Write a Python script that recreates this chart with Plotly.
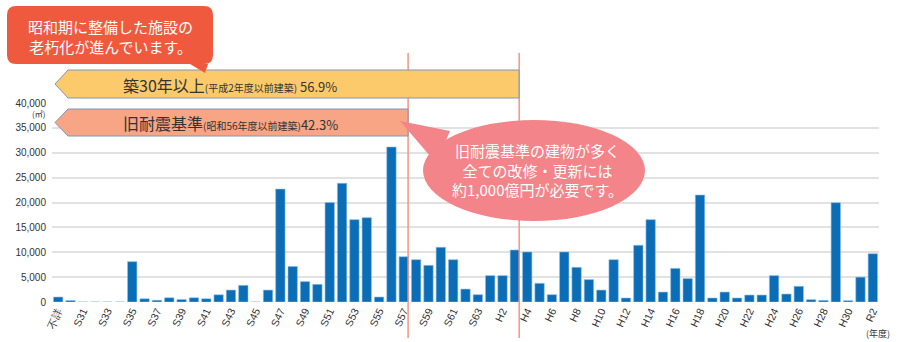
import plotly.graph_objects as go

# ---- data ----
categories = (["不詳"] + [f"S{i}" for i in range(30, 64)] +
              [f"H{i}" for i in range(1, 31)] + ["R1", "R2"])
floor_area = [
    1000, 300, 0, 0, 0, 0, 8100, 650, 350, 850,          # 不詳, S30-S38
    500, 850, 650, 1450, 2400, 3350, 0, 2400, 22700, 7150,  # S39-S48
    4100, 3550, 20000, 23850, 16550, 16950, 1000, 31150, 9100, 8500,  # S49-S58
    7370, 11000, 8500, 2600, 1470,                          # S59-S63
    5300, 5300, 10450, 10050, 3750, 1470, 10050, 6970, 4500, 2400,  # H1-H10
    8500, 800, 11400, 16550, 2000, 6750, 4700, 21500, 800, 2000,    # H11-H20
    800, 1400, 1400, 5300, 1600, 3150, 470, 330, 19960, 270,        # H21-H30
    5000, 9700,                                              # R1, R2
]
tick_labels = categories[::2]
y_ticks = [0, 5000, 10000, 15000, 20000, 25000, 30000, 35000, 40000]

# ---- layout helpers (pixel -> paper) ----
W, H = 900, 342
ML, MR, MT, MB = 52, 21, 103, 40
PW, PH = W - ML - MR, H - MT - MB


def px(x):
    return (x - ML) / PW


def py(y):
    return (H - MB - y) / PH


JP = "Noto Sans CJK JP"
NUM = "Liberation Sans"

fig = go.Figure()
fig.add_trace(go.Bar(
    x=categories, y=floor_area,
    marker=dict(color="#0a6db6", line=dict(color="#8fbde3", width=0.6)),
    hoverinfo="x+y",
))

fig.update_layout(
    width=W, height=H,
    margin=dict(l=ML, r=MR, t=MT, b=MB),
    plot_bgcolor="white", paper_bgcolor="white",
    bargap=0.24, showlegend=False,
    font=dict(family=NUM, color="#333333"),
    xaxis=dict(
        type="category", tickmode="array", tickvals=tick_labels, ticktext=tick_labels,
        tickangle=-65, tickfont=dict(size=10.5, family=NUM, color="#333333"),
        showgrid=False, showline=False, ticks="", range=[-0.5, len(categories) - 0.5],
    ),
    yaxis=dict(
        range=[0, 40000], tickmode="array", tickvals=y_ticks,
        tickformat=",", tickfont=dict(size=10, family=NUM, color="#333333"),
        gridcolor="#e2e2e2", gridwidth=1.5, zeroline=False, showline=False,
        ticklabelstandoff=5,
    ),
)

shapes = []
line_col = "#f39585"
# vertical reference lines (after S57 and H3 bars)
for xv in (28.35, 37.35):
    shapes.append(dict(type="line", xref="x", yref="paper", x0=xv, x1=xv,
                       y0=py(338), y1=py(53), line=dict(color=line_col, width=1.5),
                       layer="above"))

# yellow arrow band
yt, yb, tip, left, right = 70, 98, 55, 68, 519
path = (f"M {px(tip)},{py((yt+yb)/2)} L {px(left)},{py(yt)} L {px(right)},{py(yt)} "
        f"L {px(right)},{py(yb)} L {px(left)},{py(yb)} Z")
shapes.append(dict(type="path", xref="paper", yref="paper", path=path,
                   fillcolor="#fdca6b", line=dict(color="#7f97b8", width=1), layer="above"))
# salmon arrow band
yt, yb, right = 109, 136, 408
path = (f"M {px(tip)},{py((yt+yb)/2)} L {px(left)},{py(yt)} L {px(right)},{py(yt)} "
        f"L {px(right)},{py(yb)} L {px(left)},{py(yb)} Z")
shapes.append(dict(type="path", xref="paper", yref="paper", path=path,
                   fillcolor="#f7a584", line=dict(color="#7f97b8", width=1), layer="above"))

# red rounded callout box with tail
x0, x1, y0, y1, r = 7, 213, 6, 64, 9
p = [
    f"M {px(x0+r)},{py(y0)}",
    f"L {px(x1-r)},{py(y0)}",
    f"Q {px(x1)},{py(y0)} {px(x1)},{py(y0+r)}",
    f"L {px(x1)},{py(y1-r)}",
    f"Q {px(x1)},{py(y1)} {px(x1-r)},{py(y1)}",
    f"L {px(208)},{py(y1)}",
    f"L {px(205)},{py(73)}",
    f"L {px(190)},{py(y1)}",
    f"L {px(x0+r)},{py(y1)}",
    f"Q {px(x0)},{py(y1)} {px(x0)},{py(y1-r)}",
    f"L {px(x0)},{py(y0+r)}",
    f"Q {px(x0)},{py(y0)} {px(x0+r)},{py(y0)}",
    "Z",
]
shapes.append(dict(type="path", xref="paper", yref="paper", path=" ".join(p),
                   fillcolor="#ef5a3f", line=dict(width=0), layer="above"))

# pink speech ellipse with tail
ell = "#f38489"
shapes.append(dict(type="path", xref="paper", yref="paper",
                   path=f"M {px(400)},{py(121)} L {px(450)},{py(131)} L {px(436)},{py(163)} Z",
                   fillcolor=ell, line=dict(width=0), layer="above"))
shapes.append(dict(type="circle", xref="paper", yref="paper",
                   x0=px(423), x1=px(645), y0=py(221), y1=py(120),
                   fillcolor=ell, line=dict(width=0), layer="above"))

fig.update_layout(shapes=shapes)


def note(x, y, text, size, color="#333333", xanchor="center", align="center"):
    return dict(xref="paper", yref="paper", x=px(x), y=py(y), showarrow=False,
                xanchor=xanchor, yanchor="middle", align=align, text=text,
                font=dict(family=JP, size=size, color=color))


ann = [
    note(110, 36, "昭和期に整備した施設の<br>老朽化が進んでいます。", 15, "white"),
    note(121, 85, ("築30年以上<span style='font-size:10px'>(平成2年度以前建築)</span>"
                   "<span style='font-size:13px'> 56.9%</span>"), 16, xanchor="left"),
    note(121, 123, ("旧耐震基準<span style='font-size:10px'>(昭和56年度以前建築)</span>"
                    "<span style='font-size:13px'>42.3%</span>"), 16, xanchor="left"),
    note(537, 170, "旧耐震基準の建物が多く<br>全ての改修・更新には<br>約1,000億円が必要です。",
         15, "white"),
    note(38, 113, "(㎡)", 8),
    note(878, 333, "(年度)", 9),
]
fig.update_layout(annotations=ann)

fig.write_html("out.html")
